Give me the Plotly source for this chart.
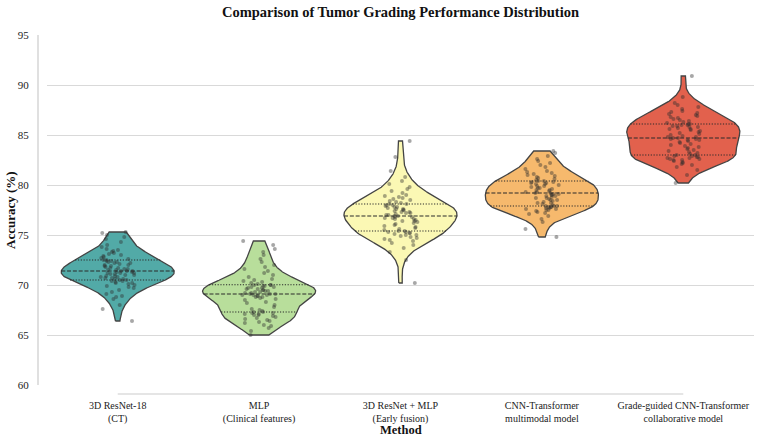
import numpy as np
import plotly.graph_objects as go

# ---------------- data ----------------
methods = [
    "3D ResNet-18<br>(CT)",
    "MLP<br>(Clinical features)",
    "3D ResNet + MLP<br>(Early fusion)",
    "CNN-Transformer<br>multimodal model",
    "Grade-guided CNN-Transformer<br>collaborative model",
]

acc_resnet18 = [
    66.4, 67.6, 68.0, 68.6, 68.8, 68.9, 69.1, 69.3, 69.5, 69.7, 69.8, 69.9, 70.0, 70.1, 70.2, 70.2, 70.3, 70.4, 70.4, 70.5,
    70.5, 70.6, 70.6, 70.7, 70.7, 70.8, 70.8, 70.9, 70.9, 71.0, 71.0, 71.1, 71.1, 71.2, 71.2, 71.2, 71.3, 71.3, 71.4, 71.4,
    71.4, 71.5, 71.5, 71.6, 71.6, 71.7, 71.7, 71.8, 71.9, 71.9, 72.0, 72.0, 72.1, 72.2, 72.2, 72.3, 72.3, 72.4, 72.4, 72.5,
    72.5, 72.6, 72.7, 72.8, 72.9, 73.0, 73.1, 73.2, 73.3, 73.4, 73.5, 73.6, 73.8, 74.0, 74.3, 74.6, 74.8, 75.0, 75.2, 75.3,
]
acc_mlp = [
    65.0, 65.4, 65.7, 65.9, 66.0, 66.2, 66.3, 66.4, 66.5, 66.6, 66.7, 66.8, 66.9, 67.0, 67.0, 67.1, 67.1, 67.2, 67.2, 67.3,
    67.3, 67.4, 67.5, 67.6, 67.8, 68.0, 68.2, 68.3, 68.5, 68.6, 68.7, 68.8, 68.8, 68.9, 68.9, 69.0, 69.0, 69.0, 69.1, 69.1,
    69.1, 69.2, 69.2, 69.3, 69.3, 69.4, 69.4, 69.5, 69.5, 69.6, 69.6, 69.7, 69.7, 69.8, 69.8, 69.9, 69.9, 70.0, 70.0, 70.0,
    70.1, 70.2, 70.3, 70.4, 70.5, 70.6, 70.8, 71.0, 71.2, 71.4, 71.6, 71.8, 72.0, 72.3, 72.6, 73.0, 73.3, 73.6, 74.0, 74.4,
]
acc_early_fusion = [
    70.2, 72.5, 73.3, 73.7, 74.0, 74.2, 74.4, 74.5, 74.6, 74.7, 74.8, 74.9, 75.0, 75.0, 75.1, 75.2, 75.2, 75.3, 75.3, 75.4,
    75.4, 75.5, 75.6, 75.7, 75.8, 75.9, 76.0, 76.1, 76.2, 76.3, 76.4, 76.4, 76.5, 76.6, 76.6, 76.7, 76.7, 76.8, 76.8, 76.9,
    76.9, 77.0, 77.0, 77.1, 77.2, 77.2, 77.3, 77.3, 77.4, 77.5, 77.5, 77.6, 77.6, 77.7, 77.8, 77.8, 77.9, 78.0, 78.0, 78.1,
    78.1, 78.2, 78.3, 78.4, 78.5, 78.6, 78.7, 78.8, 78.9, 79.0, 79.2, 79.4, 79.6, 79.8, 80.1, 80.4, 80.8, 81.4, 82.8, 84.4,
]
acc_cnn_transformer = [
    74.8, 75.6, 76.3, 76.6, 76.9, 77.1, 77.2, 77.3, 77.4, 77.5, 77.5, 77.6, 77.6, 77.7, 77.7, 77.8, 77.8, 77.8, 77.9, 77.9,
    77.9, 78.0, 78.1, 78.2, 78.2, 78.3, 78.4, 78.5, 78.5, 78.6, 78.7, 78.7, 78.8, 78.9, 78.9, 79.0, 79.0, 79.1, 79.1, 79.2,
    79.2, 79.3, 79.3, 79.4, 79.5, 79.5, 79.6, 79.7, 79.7, 79.8, 79.9, 79.9, 80.0, 80.1, 80.1, 80.2, 80.2, 80.3, 80.3, 80.4,
    80.4, 80.5, 80.6, 80.7, 80.8, 80.9, 81.0, 81.1, 81.2, 81.3, 81.4, 81.6, 81.8, 82.0, 82.2, 82.4, 82.6, 82.9, 83.2, 83.4,
]
acc_grade_guided = [
    80.2, 81.0, 81.5, 81.8, 82.0, 82.1, 82.2, 82.3, 82.4, 82.5, 82.5, 82.6, 82.6, 82.7, 82.7, 82.8, 82.8, 82.9, 82.9, 83.0,
    83.0, 83.1, 83.2, 83.3, 83.4, 83.5, 83.6, 83.7, 83.8, 83.9, 84.0, 84.1, 84.2, 84.3, 84.4, 84.5, 84.5, 84.6, 84.6, 84.7,
    84.7, 84.8, 84.8, 84.9, 85.0, 85.1, 85.2, 85.3, 85.4, 85.5, 85.6, 85.6, 85.7, 85.8, 85.8, 85.9, 85.9, 86.0, 86.0, 86.1,
    86.1, 86.2, 86.3, 86.4, 86.5, 86.6, 86.7, 86.8, 86.9, 87.0, 87.1, 87.2, 87.3, 87.4, 87.6, 87.8, 88.0, 88.2, 88.8, 90.9,
]

groups = [acc_resnet18, acc_mlp, acc_early_fusion, acc_cnn_transformer, acc_grade_guided]
colors = ["#52aaa7", "#b8de9b", "#fbf8b4", "#f6b96d", "#e2614d"]

FONT = "Liberation Serif, Times New Roman, serif"
HALF_WIDTH = 0.4


def kde(values, grid):
    v = np.asarray(values, dtype=float)
    n = len(v)
    bw = v.std(ddof=1) * n ** (-0.2)  # Scott's rule
    z = (grid[:, None] - v[None, :]) / bw
    return np.exp(-0.5 * z ** 2).sum(axis=1) / (n * bw * np.sqrt(2 * np.pi))


def jitter(n, seed):
    # deterministic hash-based horizontal spread for the strip points
    k = np.arange(n) + 1 + 37 * seed
    h = np.sin(k * 12.9898 + seed * 78.233) * 43758.5453
    return (h - np.floor(h) - 0.5) * 0.24


fig = go.Figure()

for i, (vals, col) in enumerate(zip(groups, colors)):
    v = np.asarray(vals, dtype=float)
    grid = np.linspace(v.min(), v.max(), 250)
    dens = kde(v, grid)
    half = dens / dens.max() * HALF_WIDTH
    xs = np.concatenate([i - half, (i + half)[::-1], [i - half[0]]])
    ys = np.concatenate([grid, grid[::-1], [grid[0]]])
    fig.add_trace(go.Scatter(
        x=xs, y=ys, mode="lines", fill="toself", fillcolor=col,
        line=dict(color="#444444", width=1.3), hoverinfo="skip", showlegend=False,
    ))
    qs = np.percentile(v, [25, 50, 75])
    for k, q in enumerate(qs):
        w = float(np.interp(q, grid, half))
        fig.add_trace(go.Scatter(
            x=[i - w, i + w], y=[q, q], mode="lines",
            line=dict(color="#2a2a2a", width=1.1,
                      dash="4px,1.8px" if k == 1 else "1.2px,1.6px"),
            hoverinfo="skip", showlegend=False,
        ))

# strip points on top
for i, vals in enumerate(groups):
    offs = jitter(len(vals), i)
    fig.add_trace(go.Scatter(
        x=i + offs, y=vals, mode="markers",
        marker=dict(size=4, color="rgba(45,45,45,0.42)", line=dict(width=0)),
        hoverinfo="y", showlegend=False,
    ))

W, H = 767, 438
ml, mr, mt, mb = 47, 13, 35, 53
pw, ph = W - ml - mr, H - mt - mb
spine = "#cccccc"

fig.update_layout(
    width=W, height=H,
    margin=dict(l=ml, r=mr, t=mt, b=mb, autoexpand=False),
    paper_bgcolor="white", plot_bgcolor="white",
    font=dict(family=FONT, color="#222222"),
    title=dict(text="<b>Comparison of Tumor Grading Performance Distribution</b>",
               x=0.5, xref="paper", xanchor="center", y=1 - 12 / H, yanchor="middle",
               font=dict(size=14.5, family=FONT, color="#111111")),
    xaxis=dict(
        range=[-0.5, 4.5], tickmode="array", tickvals=list(range(5)), ticktext=methods,
        showgrid=False, zeroline=False, showline=False, automargin=False,
        ticks="outside", ticklen=11, tickcolor="rgba(0,0,0,0)",
        tickfont=dict(size=10, family=FONT, color="#222222"),
    ),
    yaxis=dict(
        range=[60, 95], tickmode="linear", tick0=60, dtick=5,
        showgrid=True, gridcolor="#d9d9d9", gridwidth=1,
        zeroline=False, showline=False, automargin=False,
        ticks="outside", ticklen=15, tickcolor="rgba(0,0,0,0)",
        tickfont=dict(size=11, family=FONT, color="#222222"),
    ),
    shapes=[
        dict(type="line", xref="paper", yref="y", x0=-9 / pw, x1=-9 / pw, y0=60, y1=95,
             line=dict(color=spine, width=1.2), layer="below"),
        dict(type="line", xref="x", yref="paper", x0=0, x1=4, y0=-9 / ph, y1=-9 / ph,
             line=dict(color=spine, width=1.2), layer="below"),
    ],
    annotations=[
        dict(text="<b>Method</b>", xref="paper", yref="paper", x=0.5, y=-(430 - 385) / ph,
             xanchor="center", yanchor="middle", showarrow=False,
             font=dict(size=12.5, family=FONT, color="#111111")),
        dict(text="<b>Accuracy (%)</b>", xref="paper", yref="paper", x=(10 - ml) / pw, y=0.5,
             xanchor="center", yanchor="middle", textangle=-90, showarrow=False,
             font=dict(size=13, family=FONT, color="#111111")),
    ],
)

fig.write_html("out.html")
